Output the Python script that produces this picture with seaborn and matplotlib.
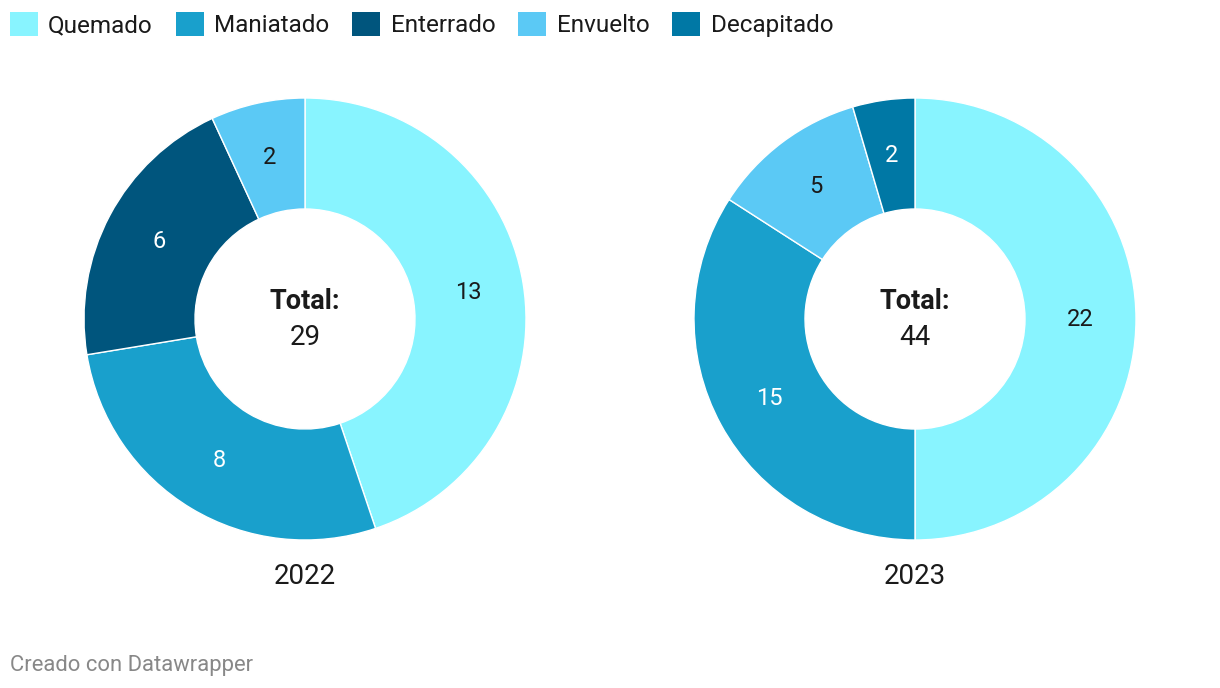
import matplotlib
matplotlib.use("Agg")
import matplotlib.pyplot as plt
import seaborn as sns
import numpy as np
from matplotlib.patches import Patch

sns.set_theme(style="white")
plt.rcParams['font.family'] = ['Roboto', 'DejaVu Sans']

categories = ["Quemado", "Maniatado", "Enterrado", "Envuelto", "Decapitado"]
colors = {"Quemado": "#88f4ff", "Maniatado": "#19a0cc", "Enterrado": "#00557d",
          "Envuelto": "#5bc9f5", "Decapitado": "#0078a5"}
text_colors = {"Quemado": "#1a1a1a", "Maniatado": "white", "Enterrado": "white",
               "Envuelto": "#1a1a1a", "Decapitado": "white"}

cats_2022 = ["Quemado", "Maniatado", "Enterrado", "Envuelto"]
vals_2022 = [13, 8, 6, 2]
cats_2023 = ["Quemado", "Maniatado", "Envuelto", "Decapitado"]
vals_2023 = [22, 15, 5, 2]
years = ["2022", "2023"]

W, H = 1220, 688
fig = plt.figure(figsize=(W / 100, H / 100), dpi=100)

R_px = 221
inner = 110 / 221

def draw(cx, cy, cats, vals, year):
    ax = fig.add_axes([(cx - R_px) / W, (H - cy - R_px) / H, 2 * R_px / W, 2 * R_px / H])
    ax.pie(vals, colors=[colors[c] for c in cats], startangle=90, counterclock=False,
           radius=1, wedgeprops=dict(width=1 - inner, edgecolor="white", linewidth=1))
    total = sum(vals)
    cum = 0
    rmid = (1 + inner) / 2
    for c, v in zip(cats, vals):
        mid = (cum + v / 2) / total * 2 * np.pi
        x = rmid * np.sin(mid)
        y = rmid * np.cos(mid)
        ax.text(x, y, str(v), ha="center", va="center", fontsize=17, color=text_colors[c])
        cum += v
    ax.text(0, 0.08, "Total:", ha="center", va="center", fontsize=19.5, fontweight="bold", color="#1a1a1a")
    ax.text(0, -0.085, str(total), ha="center", va="center", fontsize=20, color="#1a1a1a")
    ax.set_xlim(-1, 1)
    ax.set_ylim(-1, 1)
    ax.set_aspect("equal")
    ax.axis("off")
    fig.text(cx / W, 1 - 577 / H, year, ha="center", va="center", fontsize=20, color="#1a1a1a")

draw(305, 319, cats_2022, vals_2022, years[0])
draw(915, 319, cats_2023, vals_2023, years[1])

handles = [Patch(facecolor=colors[c], edgecolor="none", label=c) for c in categories]
fig.legend(handles=handles, loc="upper left", bbox_to_anchor=(10 / W, 1 - 12 / H), ncol=5, frameon=False,
           fontsize=17.5, handlelength=1.15, handleheight=1.15, handletextpad=0.42, columnspacing=0.95,
           labelcolor="#1a1a1a", borderaxespad=0, borderpad=0)

fig.text(10 / W, 1 - 666 / H, "Creado con Datawrapper", ha="left", va="center", fontsize=15.8, color="#888888")

fig.savefig("out.png", dpi=100, facecolor="white")
